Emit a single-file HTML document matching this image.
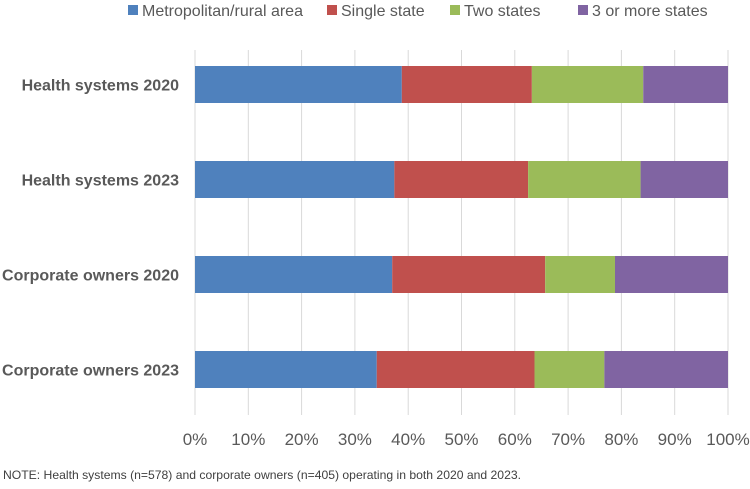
<!DOCTYPE html>
<html><head><meta charset="utf-8"><style>
body{margin:0;background:#fff;width:750px;height:484px;overflow:hidden;font-family:"Liberation Sans",sans-serif}
</style></head><body>
<svg id="chart" width="750" height="484" xmlns="http://www.w3.org/2000/svg"></svg>
<script>
const categories=["Health systems 2020","Health systems 2023","Corporate owners 2020","Corporate owners 2023"];
const seriesNames=["Metropolitan/rural area","Single state","Two states","3 or more states"];
const metro=[38.8,37.4,37.0,34.1];
const single=[24.4,25.1,28.7,29.6];
const two=[20.9,21.1,13.1,13.1];
const three=[15.9,16.4,21.2,23.2];
const ticks=["0%","10%","20%","30%","40%","50%","60%","70%","80%","90%","100%"];
{
const colors=["#4f81bd","#c0504d","#9bbb59","#8064a2"];
const NS="http://www.w3.org/2000/svg";
const svg=document.getElementById('chart');
const x0=195,x1=728,plotTop=50,plotBottom=415;
const xs=v=>x0+(x1-x0)*v/100;
const rowY=i=>66+i*95;
const barH=37;
function mk(t,a){const e=document.createElementNS(NS,t);for(const k in a)e.setAttribute(k,a[k]);svg.appendChild(e);return e;}
ticks.forEach((t,i)=>{
  const v=i*10;
  const g=mk('line',{x1:xs(v),x2:xs(v),y1:plotTop,y2:plotBottom,stroke:'#d9d9d9','stroke-width':1});
  
  
  const tx=mk('text',{x:xs(v),y:445,'text-anchor':'middle','font-size':17,fill:'#595959'});
  tx.textContent=t;
  
  
});
const series=[metro,single,two,three];
categories.forEach((c,i)=>{
  let acc=0;
  series.forEach((s,j)=>{
    const r=mk('rect',{x:xs(acc),y:rowY(i),width:xs(acc+s[i])-xs(acc),height:barH,fill:colors[j]});
    
    
    acc+=s[i];
  });
  const l=mk('text',{x:179,y:rowY(i)+barH/2+6,'text-anchor':'end','font-size':16,'font-weight':'bold',fill:'#595959'});
  l.textContent=c;
  
  
});
const legX=[128,327,450,578];
seriesNames.forEach((n,j)=>{
  const r=mk('rect',{x:legX[j],y:5,width:10,height:10,fill:colors[j]});
  
  
  const t=mk('text',{x:legX[j]+14,y:16,'font-size':16,fill:'#595959'});
  t.textContent=n;
  
  
});
const note=mk('text',{x:3,y:479,'font-size':12,fill:'#404040',textLength:518,lengthAdjust:'spacingAndGlyphs'});
note.textContent="NOTE: Health systems (n=578) and corporate owners (n=405) operating in both 2020 and 2023.";


}
</script>
</body></html>
